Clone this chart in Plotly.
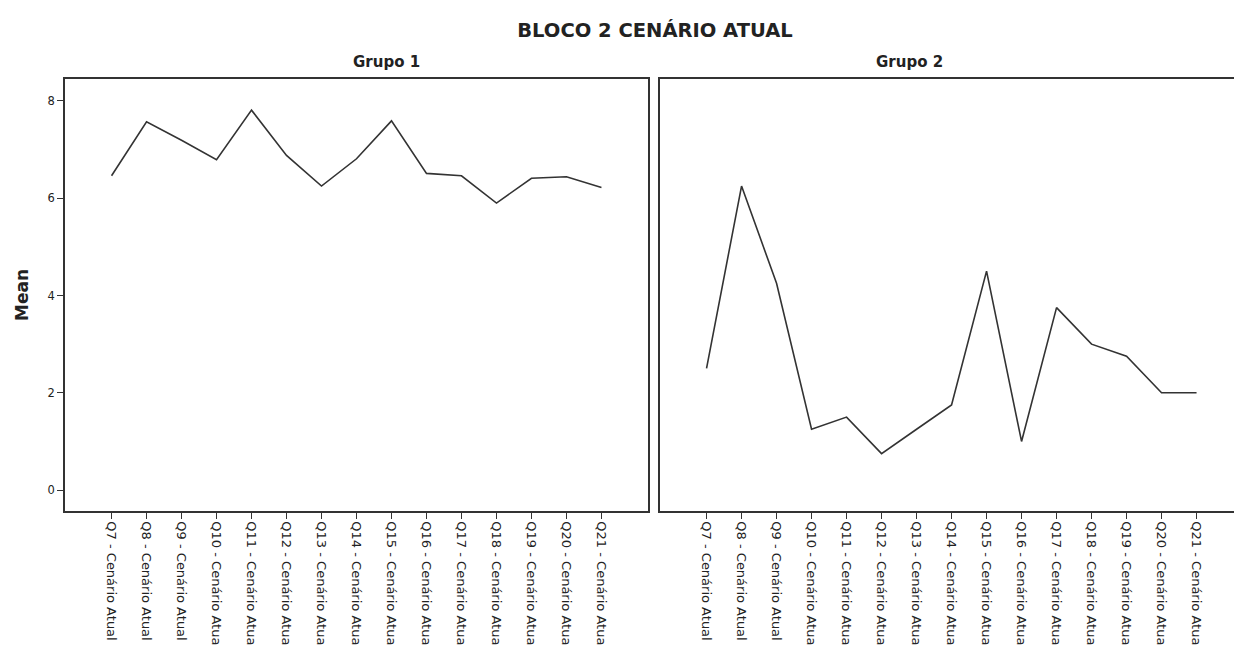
import plotly.graph_objects as go

categories = ["Q7 - Cenário Atual", "Q8 - Cenário Atual", "Q9 - Cenário Atual",
              "Q10 - Cenário Atua", "Q11 - Cenário Atua", "Q12 - Cenário Atua",
              "Q13 - Cenário Atua", "Q14 - Cenário Atua", "Q15 - Cenário Atua",
              "Q16 - Cenário Atua", "Q17 - Cenário Atua", "Q18 - Cenário Atua",
              "Q19 - Cenário Atua", "Q20 - Cenário Atua", "Q21 - Cenário Atua"]
grupo1 = [6.46, 7.57, 7.19, 6.79, 7.81, 6.88, 6.25, 6.81, 7.59, 6.51, 6.46, 5.90, 6.41, 6.44, 6.22]
grupo2 = [2.5, 6.25, 4.25, 1.25, 1.5, 0.75, 1.25, 1.75, 4.5, 1.0, 3.75, 3.0, 2.75, 2.0, 2.0]
y_ticks = [0, 2, 4, 6, 8]
panel_titles = ["Grupo 1", "Grupo 2"]

FONT = "DejaVu Sans, Liberation Sans, Arial, sans-serif"
LINE = "#333333"
TXT = "#222222"

fig = go.Figure()
fig.add_trace(go.Scatter(x=categories, y=grupo1, mode="lines",
                         line=dict(color=LINE, width=1.6), xaxis="x", yaxis="y",
                         showlegend=False, hoverinfo="x+y"))
fig.add_trace(go.Scatter(x=categories, y=grupo2, mode="lines",
                         line=dict(color=LINE, width=1.6), xaxis="x2", yaxis="y2",
                         showlegend=False, hoverinfo="x+y"))

xcommon = dict(type="category", categoryorder="array", categoryarray=categories,
               tickangle=90, ticks="outside", ticklen=6,
               tickwidth=1.3, tickcolor=LINE, showline=True, linecolor=LINE,
               linewidth=1.5, mirror=True, showgrid=False, zeroline=False,
               tickfont=dict(family=FONT, size=13, color=TXT))
ycommon = dict(range=[-0.43, 8.45], tickvals=y_ticks, showline=True, linecolor=LINE,
               linewidth=1.5, showgrid=False, zeroline=False,
               tickfont=dict(family=FONT, size=11.5, color=TXT))

# plot area spans x = 65 .. 1234 px (1169 px)
dom1 = [0, 583 / 1169]
dom2 = [595 / 1169, 1.0]

fig.update_layout(
    width=1234, height=645,
    paper_bgcolor="white", plot_bgcolor="white",
    margin=dict(l=65, r=0, t=79, b=132),
    font=dict(family=FONT, color=TXT),
    xaxis=dict(domain=dom1, anchor="y", range=[-1.33, 15.33], **xcommon),
    xaxis2=dict(domain=dom2, anchor="y2", range=[-1.33, 15.07], **xcommon),
    yaxis=dict(anchor="x", ticks="outside", ticklen=6, tickwidth=1.3,
               tickcolor=LINE, mirror=True, **ycommon),
    yaxis2=dict(anchor="x2", showticklabels=False, ticks="", mirror=False, **ycommon),
    title=dict(text="<b>BLOCO 2 CENÁRIO ATUAL</b>", xref="container", x=655 / 1234,
               xanchor="center", yref="container", y=1 - 30 / 645, yanchor="middle",
               font=dict(family=FONT, size=19.5, color=TXT)),
)

for t, xc in zip(panel_titles, [(351 - 65) / 1169, (945 - 65) / 1169]):
    fig.add_annotation(text=f"<b>{t}</b>", x=xc, xref="paper",
                       y=1.0, yref="paper", yanchor="middle", yshift=17, showarrow=False,
                       font=dict(family=FONT, size=15, color=TXT))

fig.add_annotation(text="<b>Mean</b>", x=0, xref="paper", xshift=-43, xanchor="center",
                   y=0.5, yref="paper", yanchor="middle", textangle=-90, showarrow=False,
                   font=dict(family=FONT, size=17, color=TXT))

fig.write_html("out.html", config={"displayModeBar": False},
               post_script="document.body.style.margin='0';document.body.style.overflow='hidden';")
